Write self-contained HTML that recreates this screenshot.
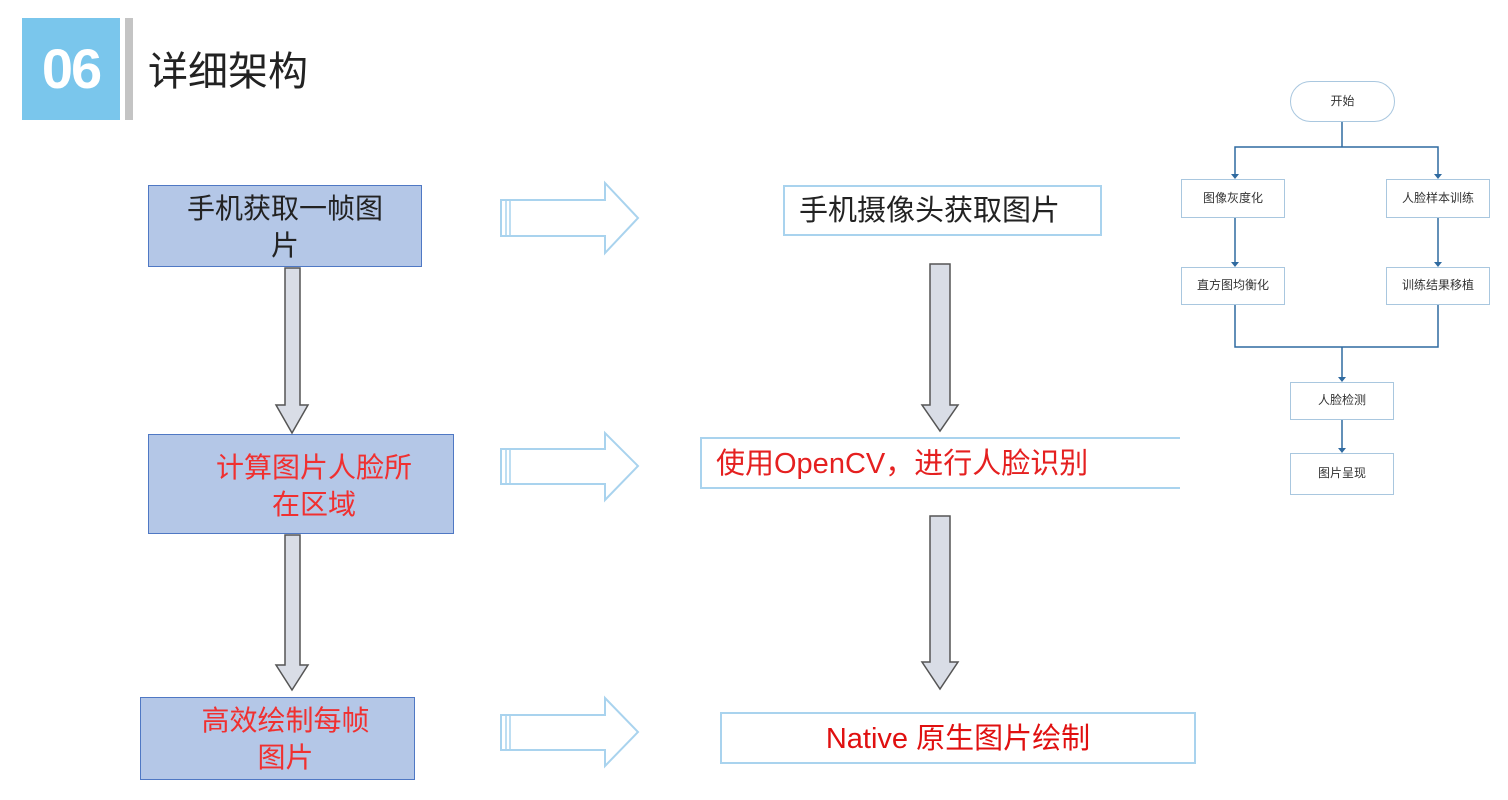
<!DOCTYPE html>
<html><head><meta charset="utf-8"><style>
body{margin:0;width:1508px;height:800px;background:#fff;position:relative;overflow:hidden;font-family:"Liberation Sans","Noto Sans CJK SC",sans-serif;}
.a{position:absolute;box-sizing:border-box;}
.lb{background:#b4c7e7;border:1px solid #4f78c4;font-size:28px;text-align:center;line-height:37px;}
.mb{border:2px solid #a9d3ee;background:#fff;font-size:29px;white-space:nowrap;}
.fb{border:1.5px solid #a9c7df;background:#fff;font-size:12px;color:#333;text-align:center;}
</style></head><body>
<div class="a" style="left:22px;top:18px;width:98px;height:102px;background:#7ac6ec;color:#fff;font-size:56px;line-height:102px;text-align:center;font-weight:bold;letter-spacing:-2px;">06</div>
<div class="a" style="left:125px;top:18px;width:8px;height:102px;background:#c4c4c4;"></div>
<div class="a" style="left:148px;top:47px;font-size:40px;color:#222;line-height:50px;">详细架构</div>

<div class="a lb" style="left:148px;top:185px;width:274px;height:82px;padding-top:4px;color:#222;">手机获取一帧图<br>片</div>
<div class="a lb" style="left:148px;top:434px;width:306px;height:100px;padding-top:14px;padding-left:26px;color:#f03030;">计算图片人脸所<br>在区域</div>
<div class="a lb" style="left:140px;top:697px;width:275px;height:83px;padding-top:4px;padding-left:16px;color:#f03030;">高效绘制每帧<br>图片</div>

<div class="a mb" style="left:783px;top:185px;width:319px;height:51px;line-height:48px;padding-left:14px;color:#222;">手机摄像头获取图片</div>
<div class="a mb" style="left:700px;top:437px;width:480px;height:52px;line-height:50px;padding-left:14px;color:#e52020;border-right:none;">使用OpenCV，进行人脸识别</div>
<div class="a mb" style="left:720px;top:712px;width:476px;height:52px;line-height:50px;text-align:center;color:#e01010;">Native 原生图片绘制</div>

<svg class="a" style="left:0;top:0" width="1508" height="800">
<g fill="#fff" stroke="#a9d3ee" stroke-width="2">
<polygon points="501,200 605,200 605,183 638,218 605,253 605,236 501,236"/>
<polygon points="501,449 605,449 605,433 638,466 605,500 605,484 501,484"/>
<polygon points="501,715 605,715 605,698 638,732 605,766 605,750 501,750"/>
</g>
<g stroke="#a9d3ee" stroke-width="1.5"><line x1="506" y1="200" x2="506" y2="236"/><line x1="510" y1="200" x2="510" y2="236"/>
<line x1="506" y1="449" x2="506" y2="484"/><line x1="510" y1="449" x2="510" y2="484"/>
<line x1="506" y1="715" x2="506" y2="750"/><line x1="510" y1="715" x2="510" y2="750"/></g>
<g fill="#d9dde6" stroke="#555" stroke-width="1.5">
<polygon points="285,268 300,268 300,405 308,405 292,433 276,405 285,405"/>
<polygon points="285,535 300,535 300,665 308,665 292,690 276,665 285,665"/>
<polygon points="930,264 950,264 950,405 958,405 940,431 922,405 930,405"/>
<polygon points="930,516 950,516 950,662 958,662 940,689 922,662 930,662"/>
</g>
<g stroke="#2f6aa0" stroke-width="1.5" fill="none">
<polyline points="1342,122 1342,147"/><polyline points="1235,175 1235,147 1438,147 1438,175"/>
<line x1="1235" y1="218" x2="1235" y2="263"/><line x1="1438" y1="218" x2="1438" y2="263"/>
<polyline points="1235,305 1235,347 1438,347 1438,305"/><line x1="1342" y1="347" x2="1342" y2="378"/>
<line x1="1342" y1="420" x2="1342" y2="449"/>
</g>
<g fill="#2f6aa0">
<polygon points="1231,174 1239,174 1235,179"/><polygon points="1434,174 1442,174 1438,179"/>
<polygon points="1231,262 1239,262 1235,267"/><polygon points="1434,262 1442,262 1438,267"/>
<polygon points="1338,377 1346,377 1342,382"/><polygon points="1338,448 1346,448 1342,453"/>
</g>
</svg>
<div class="a fb" style="left:1290px;top:81px;width:105px;height:41px;border-radius:21px;line-height:38px;">开始</div>
<div class="a fb" style="left:1181px;top:179px;width:104px;height:39px;line-height:36px;">图像灰度化</div>
<div class="a fb" style="left:1386px;top:179px;width:104px;height:39px;line-height:36px;">人脸样本训练</div>
<div class="a fb" style="left:1181px;top:267px;width:104px;height:38px;line-height:35px;">直方图均衡化</div>
<div class="a fb" style="left:1386px;top:267px;width:104px;height:38px;line-height:35px;">训练结果移植</div>
<div class="a fb" style="left:1290px;top:382px;width:104px;height:38px;line-height:35px;">人脸检测</div>
<div class="a fb" style="left:1290px;top:453px;width:104px;height:42px;line-height:39px;">图片呈现</div>
</body></html>
